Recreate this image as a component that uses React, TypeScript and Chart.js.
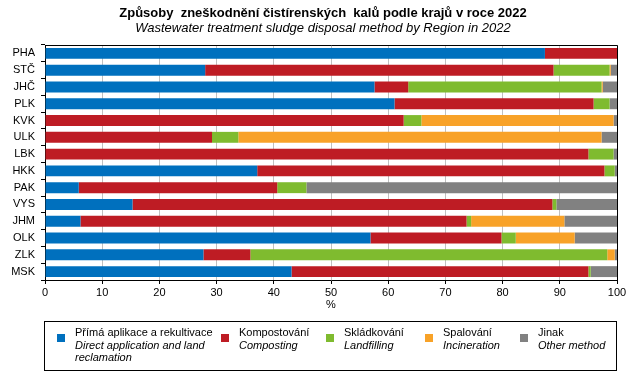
import React, { useEffect, useRef } from "react";
import { Chart, registerables } from "chart.js";
Chart.register(...registerables);

const regions = ["PHA", "STČ", "JHČ", "PLK", "KVK", "ULK", "LBK", "HKK", "PAK", "VYS", "JHM", "OLK", "ZLK", "MSK"];
const direct = [87.4, 28.0, 57.6, 61.1, 0, 0, 0, 37.1, 5.9, 15.3, 6.2, 56.9, 27.7, 43.1];
const composting = [12.6, 60.9, 5.9, 34.8, 62.7, 29.2, 95.0, 60.7, 34.7, 73.4, 67.5, 22.9, 8.2, 51.9];
const landfilling = [0, 9.8, 33.8, 2.8, 3.1, 4.6, 4.4, 1.8, 5.1, 0.7, 0.8, 2.5, 62.4, 0.4];
const incineration = [0, 0.2, 0.2, 0, 33.6, 63.5, 0, 0, 0, 0, 16.3, 10.3, 1.3, 0];
const other = [0, 1.1, 2.5, 1.3, 0.6, 2.7, 0.6, 0.4, 54.3, 10.6, 9.2, 7.4, 0.4, 4.6];

const titleCz = "Způsoby  zneškodnění čistírenských  kalů podle krajů v roce 2022";
const titleEn = "Wastewater treatment sludge disposal method by Region in 2022";
const axisTitle = "%";

const seriesCz = ["Přímá aplikace a rekultivace", "Kompostování", "Skládkování", "Spalování", "Jinak"];
const seriesEn = [["Direct application and land", "reclamation"], ["Composting"], ["Landfilling"], ["Incineration"], ["Other method"]];
const colors = ["#0070BE", "#BE1C24", "#7FBB2F", "#F8A228", "#818181"];
const legendX = [57, 221, 326, 425, 520];

const FONT = "'Liberation Sans', Arial, sans-serif";

export default function App() {
  const ref = useRef<HTMLCanvasElement | null>(null);
  useEffect(() => {
    const values = [direct, composting, landfilling, incineration, other];
    const framePlugin = {
      id: "frame",
      afterDraw(chart: any) {
        const { ctx, chartArea } = chart;
        ctx.save();
        ctx.strokeStyle = "#000";
        ctx.lineWidth = 1;
        ctx.beginPath();
        ctx.moveTo(Math.round(chartArea.left) + 0.5, Math.round(chartArea.top) + 0.5);
        ctx.lineTo(Math.round(chartArea.right) + 0.5, Math.round(chartArea.top) + 0.5);
        ctx.lineTo(Math.round(chartArea.right) + 0.5, Math.round(chartArea.bottom) + 0.5);
        ctx.stroke();
        ctx.fillStyle = "#000";
        ctx.textAlign = "center";
        ctx.textBaseline = "middle";
        ctx.font = `bold 13px ${FONT}`;
        ctx.fillText(titleCz, 323, 13);
        ctx.font = `italic 13px ${FONT}`;
        ctx.fillText(titleEn, 323, 28);
        ctx.font = `11px ${FONT}`;
        ctx.fillText(axisTitle, (chartArea.left + chartArea.right) / 2, 305);
        ctx.restore();
      },
    };
    const chart = new Chart(ref.current as HTMLCanvasElement, {
      type: "bar",
      data: {
        labels: regions,
        datasets: values.map((v, i) => ({
          label: seriesCz[i],
          data: v,
          backgroundColor: colors[i],
          borderWidth: 0,
          categoryPercentage: 1,
          barPercentage: 0.65,
        })),
      },
      options: {
        indexAxis: "y",
        animation: false,
        responsive: false,
        layout: { padding: { top: 45, right: 26, bottom: 65, left: 0 } },
        plugins: { legend: { display: false }, title: { display: false }, tooltip: { enabled: false } },
        scales: {
          x: {
            stacked: true,
            min: 0,
            max: 100,
            ticks: { stepSize: 10, color: "#000", font: { size: 11, family: FONT }, padding: 2 },
            grid: { color: "#C0C0C0", tickLength: 4, tickColor: "#000", lineWidth: 1 },
            border: { display: true, color: "#000", width: 1 },
            afterFit(scale: any) { scale.height = 30; },
          },
          y: {
            stacked: true,
            ticks: { color: "#000", font: { size: 11, family: FONT }, padding: 6 },
            grid: { drawOnChartArea: false, tickLength: 4, color: "#000", offset: true },
            border: { display: true, color: "#000", width: 1 },
            afterFit(scale: any) { scale.width = 45; },
          },
        },
      },
      plugins: [framePlugin],
    } as any);
    return () => chart.destroy();
  }, []);

  return (
    <div style={{ position: "absolute", left: 0, top: 0, width: 643, height: 375, background: "#fff", fontFamily: FONT }}>
      <canvas ref={ref} width={643} height={375} style={{ width: 643, height: 375, display: "block" }} />
      <div style={{ position: "absolute", left: 44, top: 321, width: 571, height: 48, border: "1px solid #000", boxSizing: "content-box" }} />
      {seriesCz.map((s, i) => (
        <React.Fragment key={s}>
          <div style={{ position: "absolute", left: legendX[i], top: 334, width: 8, height: 8, background: colors[i] }} />
          <div style={{ position: "absolute", left: legendX[i] + 18, top: 326, fontSize: 11, lineHeight: "12.5px", color: "#000", whiteSpace: "nowrap" }}>
            <div>{s}</div>
            {seriesEn[i].map((t) => (
              <div key={t} style={{ fontStyle: "italic" }}>{t}</div>
            ))}
          </div>
        </React.Fragment>
      ))}
    </div>
  );
}
